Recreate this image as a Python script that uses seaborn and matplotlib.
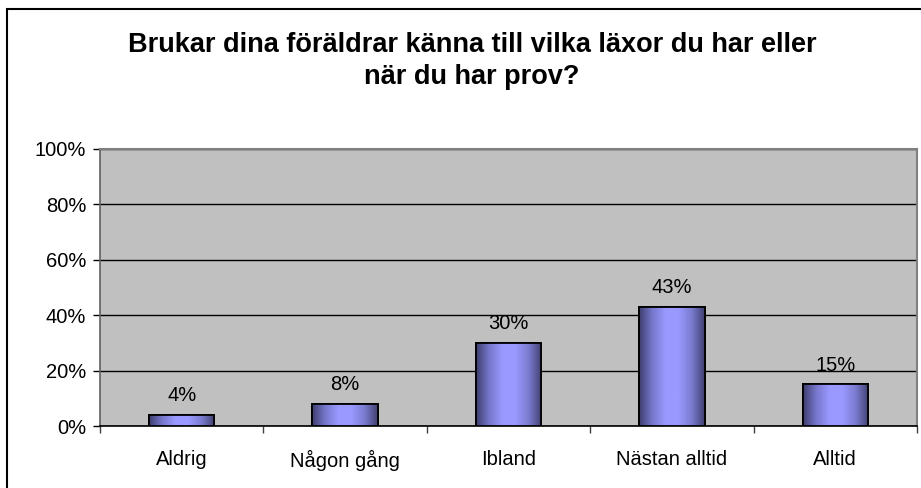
import numpy as np
import pandas as pd
import seaborn as sns
import matplotlib.pyplot as plt
from matplotlib.colors import LinearSegmentedColormap
from matplotlib.patches import Rectangle
from matplotlib.ticker import PercentFormatter

sns.set_theme(style="white")
plt.rcParams["font.family"] = ["Liberation Sans", "DejaVu Sans"]
plt.rcParams["text.color"] = "black"
plt.rcParams["xtick.color"] = "black"
plt.rcParams["ytick.color"] = "black"

# ----------------------------
# Data
# ----------------------------
categories = ["Aldrig", "Någon gång", "Ibland", "Nästan alltid", "Alltid"]
shares = [4, 8, 30, 43, 15]
yticks = [0, 20, 40, 60, 80, 100]
title = "Brukar dina föräldrar känna till vilka läxor du har eller\nnär du har prov?"

df = pd.DataFrame({"category": categories, "share": shares})

W, H = 921, 488
fig = plt.figure(figsize=(W / 100, H / 100), dpi=100)
ax = fig.add_axes([100 / W, 1 - 426 / H, 817 / W, 277 / H])

sns.barplot(data=df, x="category", y="share", ax=ax, width=0.4,
            color="#9999ff", edgecolor="black", linewidth=1.3, zorder=3)

# cylinder-like gradient, Excel style
grad = LinearSegmentedColormap.from_list(
    "cyl", ["#3d3d6e", "#7777cc", "#9999ff", "#9999ff", "#7b7bd0", "#404070"])
g = np.linspace(0, 1, 256).reshape(1, -1)
for patch in ax.patches:
    x0, y0 = patch.get_x(), patch.get_y()
    w, h = patch.get_width(), patch.get_height()
    im = ax.imshow(g, cmap=grad, aspect="auto", extent=(x0, x0 + w, y0, y0 + h),
                   zorder=3.5, interpolation="bilinear")
    im.set_clip_path(patch)
    edge = Rectangle((x0, y0), w, h, fill=False, edgecolor="black",
                     linewidth=1.3, zorder=4)
    ax.add_patch(edge)
    ax.annotate(f"{h:.0f}%", (x0 + w / 2, y0 + h), xytext=(0, 7),
                textcoords="offset points", ha="center", va="bottom",
                fontsize=14.5, color="black")

ax.set_xlim(-0.5, len(categories) - 0.5)
ax.set_ylim(0, 100)
ax.set_facecolor("#c0c0c0")
ax.set_yticks(yticks)
ax.yaxis.set_major_formatter(PercentFormatter(decimals=0))
ax.grid(axis="y", color="black", linewidth=1)
ax.set_axisbelow(True)

ax.set_xticks(range(len(categories)))
ax.set_xticklabels(categories, fontsize=14.5)
ax.set_xticks(np.arange(-0.5, len(categories), 1), minor=True)
ax.tick_params(axis="x", which="major", length=0, pad=17)
ax.tick_params(axis="x", which="minor", length=5, width=1, color="#404040",
               direction="out", bottom=True)
ax.tick_params(axis="y", length=5, width=1, color="black", direction="out",
               left=True, labelsize=14.5, pad=5)
ax.set_xlabel("")
ax.set_ylabel("")

for side in ["top", "right"]:
    ax.spines[side].set_color("#808080")
    ax.spines[side].set_linewidth(1.5)
ax.spines["left"].set_color("#606060")
ax.spines["bottom"].set_color("black")
for side in ["left", "bottom"]:
    ax.spines[side].set_linewidth(1.2)

fig.text(472 / W, 1 - 61 / H, title, ha="center", va="center", fontsize=19.5,
         fontweight="bold", linespacing=1.3, color="black")

# outer chart border
fig.add_artist(Rectangle((7 / W, -0.1), 1.2, 1 - 9 / H + 0.1,
                         transform=fig.transFigure, fill=False,
                         edgecolor="black", linewidth=1.5))

fig.savefig("out.png", dpi=100)
